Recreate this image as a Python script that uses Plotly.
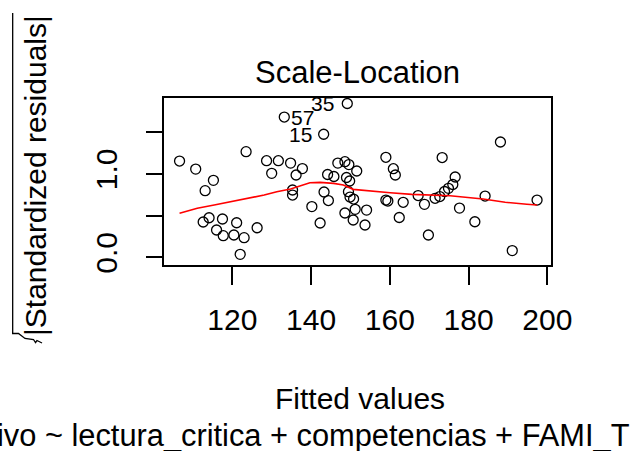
import plotly.graph_objects as go

# ---- data ----
fitted = [106.6, 110.7, 115.2, 113.1, 123.5, 114.1, 112.6, 117.5, 121.1, 116.0,
          117.7, 120.4, 123.0, 122.0, 126.3, 149.2, 133.2, 143.2, 128.7, 131.7,
          130.0, 134.8, 137.8, 136.2, 135.3, 135.3, 140.2, 142.3, 143.3, 144.4,
          144.2, 145.8, 146.8, 148.6, 149.6, 151.6, 149.0, 149.8, 149.5, 149.9,
          150.8, 148.6, 151.2, 154.1, 150.7, 153.7, 159.0, 160.9, 161.4, 159.0,
          159.5, 163.4, 162.4, 167.2, 168.8, 173.3, 169.8, 171.5, 172.7, 173.9,
          174.9, 176.0, 176.6, 177.7, 181.6, 184.2, 188.1, 191.1, 197.4]
sqrt_abs_std_resid = [1.153, 1.057, 0.922, 0.798, 1.265, 0.474, 0.423, 0.459, 0.414, 0.327,
                      0.259, 0.267, 0.235, 0.036, 0.354, 1.842, 1.680, 1.474, 1.157, 1.157,
                      1.006, 1.129, 1.063, 0.986, 0.806, 0.746, 0.608, 0.411, 0.782, 0.680,
                      0.992, 0.968, 1.129, 1.145, 1.111, 1.034, 0.956, 0.914, 0.786, 0.722,
                      0.698, 0.531, 0.575, 0.566, 0.447, 0.387, 1.198, 1.061, 0.986, 0.686,
                      0.674, 0.659, 0.477, 0.740, 0.635, 1.195, 0.267, 0.707, 0.728, 0.788,
                      0.826, 0.872, 0.962, 0.590, 0.426, 0.734, 1.381, 0.081, 0.686]

smooth_x = [106.6, 111.1, 115.4, 119.6, 124.7, 128.1, 131.3, 134.8, 139.7, 142.3,
            145.7, 148.2, 150.7, 156.2, 160.1, 165.6, 175.3, 183.7, 189.3, 194.8, 197.4]
smooth_y = [0.527, 0.587, 0.626, 0.666, 0.707, 0.746, 0.786, 0.818, 0.893, 0.898,
            0.886, 0.866, 0.814, 0.786, 0.774, 0.754, 0.738, 0.698, 0.659, 0.635, 0.626]

id_labels = ["35", "57", "15"]
id_label_x = [142.9, 137.9, 137.4]
id_label_y = [1.838, 1.670, 1.467]

x_ticks = [120, 140, 160, 180, 200]
y_ticks = [0.0, 0.5, 1.0, 1.5]
y_ticktext = ["0.0", "", "1.0", ""]

title_text = "Scale-Location"
xlab_text = "Fitted values"
ylab_text = "|Standardized residuals|"
sub_text = "ivo ~ lectura_critica + competencias + FAMI_T"

# ---- layout geometry (pixels) ----
W, H = 631, 451
L, R, T, B = 164, 80, 98, 186
PW, PH = W - L - R, H - T - B


def px(xp):
    return (xp - L) / PW


def py(yp):
    return (H - B - yp) / PH


FONT = "Liberation Sans, Arial, sans-serif"

fig = go.Figure()
fig.add_trace(go.Scatter(
    x=fitted, y=sqrt_abs_std_resid, mode="markers",
    marker=dict(symbol="circle-open", size=10, color="black", line=dict(width=1.3)),
    showlegend=False, hoverinfo="skip"))
fig.add_trace(go.Scatter(
    x=smooth_x, y=smooth_y, mode="lines", line=dict(color="red", width=1.6),
    showlegend=False, hoverinfo="skip"))

for t, xv, yv in zip(id_labels, id_label_x, id_label_y):
    fig.add_annotation(x=xv, y=yv, xref="x", yref="y", text=t, showarrow=False,
                       font=dict(family=FONT, size=21, color="black"),
                       xanchor="center", yanchor="middle")

fig.add_annotation(x=0.5, y=py(72), xref="paper", yref="paper", text=title_text,
                   showarrow=False, font=dict(family=FONT, size=31, color="black"),
                   xanchor="center", yanchor="middle")
fig.add_annotation(x=px(360), y=py(398), xref="paper", yref="paper", text=xlab_text,
                   showarrow=False, font=dict(family=FONT, size=30, color="black"),
                   xanchor="center", yanchor="middle")
fig.add_annotation(x=px(632), y=py(436), xref="paper", yref="paper", text=sub_text,
                   showarrow=False, font=dict(family=FONT, size=30.8, color="black"),
                   xanchor="right", yanchor="middle")
fig.add_annotation(x=px(35), y=py(176), xref="paper", yref="paper", text=ylab_text,
                   showarrow=False, textangle=-90,
                   font=dict(family=FONT, size=30, color="black"),
                   xanchor="center", yanchor="middle")

# radical sign for the y label (decoration)
rad_pts = [(12.7, 13), (12.7, 333.5), (18.5, 333.5), (25, 338.5), (33.5, 339.5),
           (35.5, 342.5), (37, 340.5), (42, 343)]
path = "M " + " L ".join(f"{px(a):.4f},{py(b):.4f}" for a, b in rad_pts)
fig.add_shape(type="path", path=path, xref="paper", yref="paper",
              line=dict(color="black", width=1.3))

fig.update_layout(
    width=W, height=H, margin=dict(l=L, r=R, t=T, b=B, pad=0),
    paper_bgcolor="white", plot_bgcolor="white",
    font=dict(family=FONT, size=30, color="black"),
    xaxis=dict(range=[102.65, 200.94], tickvals=x_ticks, ticks="outside", ticklen=18,
               tickwidth=1.5, tickcolor="black", showgrid=False, zeroline=False,
               showline=True, mirror=True, linecolor="black", linewidth=1.5,
               tickfont=dict(family=FONT, size=30, color="black"),
               ticklabelstandoff=9),
    yaxis=dict(range=[-0.092, 1.908], tickvals=y_ticks, ticktext=y_ticktext,
               ticks="outside", ticklen=16, tickwidth=1.5, tickcolor="black",
               showgrid=False, zeroline=False, showline=True, mirror=True,
               linecolor="black", linewidth=1.5, tickangle=-90,
               tickfont=dict(family=FONT, size=30, color="black"),
               ticklabelstandoff=17),
)

fig.write_html("out.html")
